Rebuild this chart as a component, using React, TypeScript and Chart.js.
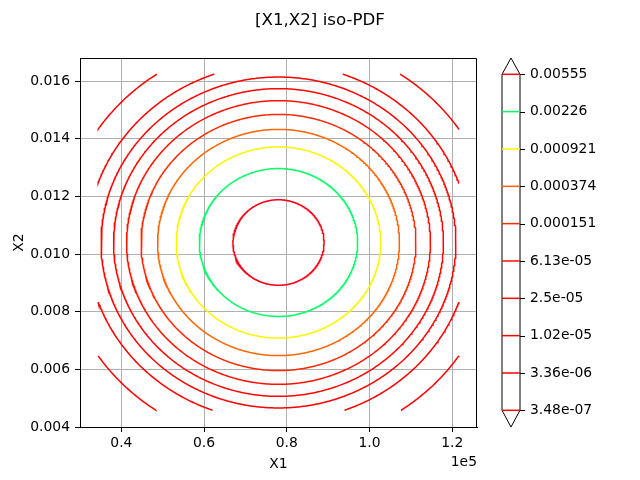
import React, { useEffect, useRef } from 'react';
import { Chart, registerables } from 'chart.js';

Chart.register(...registerables);

// ---- data ----
const levels = [3.48e-7, 3.36e-6, 1.02e-5, 2.5e-5, 6.13e-5, 0.000151, 0.000374, 0.000921, 0.00226, 0.00555];
const levelLabels = ['3.48e-07', '3.36e-06', '1.02e-05', '2.5e-05', '6.13e-05', '0.000151', '0.000374', '0.000921', '0.00226', '0.00555'];
const levelColors = ['#ff0000', '#ff0000', '#ff0300', '#ff0700', '#ff1100', '#ff2900', '#ff6500', '#fbf600', '#00ff67', '#ff0018'];
// semi-axes of each iso-PDF ellipse (X1 units, X2 units)
const semiAxisX1 = [52540, 46240, 42900, 39880, 36740, 33230, 29240, 24720, 19140, 11020];
const semiAxisX2 = [0.007049, 0.006201, 0.00574, 0.005337, 0.00492, 0.004444, 0.003924, 0.003316, 0.002566, 0.001483];
const centerX1 = 78000;
const centerX2 = 0.0104;
// box of the evaluation grid (contours stop at its edges)
const gridBoxX1 = [34400, 121600];
const gridBoxX2 = [0.00458, 0.01624];

const xRange = [30000, 126000];
const yRange = [0.004, 0.0168];
const xTickValues = [40000, 60000, 80000, 100000, 120000];
const xTickLabels = ['0.4', '0.6', '0.8', '1.0', '1.2'];
const yTickValues = [0.004, 0.006, 0.008, 0.01, 0.012, 0.014, 0.016];
const yTickLabels = ['0.004', '0.006', '0.008', '0.010', '0.012', '0.014', '0.016'];

const titleText = '[X1,X2] iso-PDF';
const xLabel = 'X1';
const yLabel = 'X2';
const xOffsetText = '1e5';

const FONT = 'DejaVu Sans';

type P = { x: number; y: number };

function insideBox(p: P) {
  return p.x >= gridBoxX1[0] && p.x <= gridBoxX1[1] && p.y >= gridBoxX2[0] && p.y <= gridBoxX2[1];
}

function edgePoint(inP: P, outP: P): P {
  let lo = 0, hi = 1;
  for (let k = 0; k < 40; k++) {
    const mid = (lo + hi) / 2;
    const q = { x: inP.x + (outP.x - inP.x) * mid, y: inP.y + (outP.y - inP.y) * mid };
    if (insideBox(q)) lo = mid; else hi = mid;
  }
  return { x: inP.x + (outP.x - inP.x) * lo, y: inP.y + (outP.y - inP.y) * lo };
}

function contourArcs(rx: number, ry: number): P[][] {
  const N = 720;
  const pts: P[] = [];
  for (let k = 0; k < N; k++) {
    const t = (2 * Math.PI * k) / N;
    pts.push({ x: centerX1 + rx * Math.cos(t), y: centerX2 + ry * Math.sin(t) });
  }
  const k0 = pts.findIndex((p) => !insideBox(p));
  if (k0 < 0) return [[...pts, pts[0]]];
  const arcs: P[][] = [];
  let cur: P[] | null = null;
  for (let j = 1; j <= N; j++) {
    const a = pts[(k0 + j - 1) % N];
    const b = pts[(k0 + j) % N];
    const ia = insideBox(a), ib = insideBox(b);
    if (!ia && ib) cur = [edgePoint(b, a), b];
    else if (ia && ib && cur) cur.push(b);
    else if (ia && !ib && cur) {
      cur.push(edgePoint(a, b));
      arcs.push(cur);
      cur = null;
    }
  }
  return arcs;
}

function buildDatasets() {
  const ds: any[] = [];
  levels.forEach((lv, i) => {
    contourArcs(semiAxisX1[i], semiAxisX2[i]).forEach((arc) => {
      ds.push({
        label: levelLabels[i],
        data: arc,
        borderColor: levelColors[i],
        backgroundColor: levelColors[i],
        borderWidth: 1.5,
        pointRadius: 0,
        showLine: true,
        fill: false,
        tension: 0,
        xAxisID: 'x',
        yAxisID: 'y',
      });
    });
  });
  return ds;
}

const decorPlugin = {
  id: 'decor',
  afterDraw(chart: any) {
    const { ctx, chartArea: ca } = chart;
    const cb = chart.scales.cb;
    ctx.save();
    // top & right spines
    ctx.strokeStyle = '#000';
    ctx.lineWidth = 1;
    ctx.beginPath();
    ctx.moveTo(ca.left, ca.top + 0.5);
    ctx.lineTo(ca.right - 0.5, ca.top + 0.5);
    ctx.lineTo(ca.right - 0.5, ca.bottom);
    ctx.stroke();

    // texts
    ctx.fillStyle = '#000';
    ctx.font = `16.67px "${FONT}"`;
    ctx.textAlign = 'center';
    ctx.textBaseline = 'alphabetic';
    ctx.fillText(titleText, 320, 24.5);

    ctx.font = `13.9px "${FONT}"`;
    ctx.fillText(xLabel, (ca.left + ca.right) / 2, 467.5);
    ctx.textAlign = 'right';
    ctx.fillText(xOffsetText, ca.right, 466);

    ctx.save();
    ctx.translate(22.5, (ca.top + ca.bottom) / 2);
    ctx.rotate(-Math.PI / 2);
    ctx.textAlign = 'center';
    ctx.textBaseline = 'alphabetic';
    ctx.fillText(yLabel, 0, 0);
    ctx.restore();

    // colorbar
    const cbL = ca.right + 25;
    const cbR = cbL + 18;
    const cbM = (cbL + cbR) / 2;
    const yTop = cb.getPixelForValue(levels.length - 1);
    const yBot = cb.getPixelForValue(0);
    ctx.fillStyle = '#fff';
    ctx.beginPath();
    ctx.moveTo(cbL, yTop);
    ctx.lineTo(cbM, ca.top);
    ctx.lineTo(cbR, yTop);
    ctx.lineTo(cbR, yBot);
    ctx.lineTo(cbM, ca.bottom);
    ctx.lineTo(cbL, yBot);
    ctx.closePath();
    ctx.fill();
    ctx.strokeStyle = '#000';
    ctx.lineWidth = 1;
    ctx.stroke();

    ctx.font = `13.9px "${FONT}"`;
    ctx.textAlign = 'left';
    ctx.textBaseline = 'middle';
    levels.forEach((lv, i) => {
      const y = cb.getPixelForValue(i);
      ctx.strokeStyle = levelColors[i];
      ctx.lineWidth = 1.5;
      ctx.beginPath();
      ctx.moveTo(cbL, y);
      ctx.lineTo(cbR, y);
      ctx.stroke();
      ctx.strokeStyle = '#000';
      ctx.lineWidth = 1;
      ctx.beginPath();
      ctx.moveTo(cbR, Math.round(y) + 0.5);
      ctx.lineTo(cbR + 5, Math.round(y) + 0.5);
      ctx.stroke();
      ctx.fillStyle = '#000';
      ctx.fillText(levelLabels[i], cbR + 10, y);
    });
    ctx.restore();
  },
};

export default function App() {
  const ref = useRef<HTMLCanvasElement>(null);
  useEffect(() => {
    Chart.defaults.font.family = FONT;
    Chart.defaults.color = '#000';
    const chart = new Chart(ref.current as HTMLCanvasElement, {
      type: 'scatter',
      data: { datasets: buildDatasets() },
      options: {
        animation: false,
        responsive: false,
        devicePixelRatio: 1,
        layout: { padding: { left: 0, right: 163, top: 58, bottom: 0 } },
        plugins: { legend: { display: false }, tooltip: { enabled: false }, title: { display: false } },
        scales: {
          x: {
            type: 'linear',
            position: 'bottom',
            min: xRange[0],
            max: xRange[1],
            afterBuildTicks: (s: any) => {
              s.ticks = xTickValues.map((v) => ({ value: v }));
            },
            afterFit: (s: any) => {
              s.height = 53;
            },
            ticks: {
              autoSkip: false,
              maxRotation: 0,
              padding: 3,
              font: { size: 13.9, family: FONT },
              color: '#000',
              callback: (v: any) => xTickLabels[xTickValues.indexOf(Number(v))],
            },
            grid: { color: '#b0b0b0', lineWidth: 1, tickColor: '#000', tickLength: 5, tickWidth: 1, drawTicks: true },
            border: { display: true, color: '#000', width: 1 },
          },
          y: {
            type: 'linear',
            position: 'left',
            min: yRange[0],
            max: yRange[1],
            afterBuildTicks: (s: any) => {
              s.ticks = yTickValues.map((v) => ({ value: v }));
            },
            afterFit: (s: any) => {
              s.width = 80;
            },
            ticks: {
              autoSkip: false,
              padding: 5,
              font: { size: 13.9, family: FONT },
              color: '#000',
              callback: (v: any) => yTickLabels[yTickValues.findIndex((t) => Math.abs(t - Number(v)) < 1e-9)],
            },
            grid: { color: '#b0b0b0', lineWidth: 1, tickColor: '#000', tickLength: 5, tickWidth: 1, drawTicks: true },
            border: { display: true, color: '#000', width: 1 },
          },
          cb: {
            type: 'linear',
            position: 'right',
            display: false,
            min: -0.447,
            max: levels.length - 1 + 0.437,
          },
        },
      } as any,
      plugins: [decorPlugin],
    });
    return () => chart.destroy();
  }, []);
  return (
    <div style={{ position: 'absolute', left: 0, top: 0, width: 640, height: 480, background: '#fff' }}>
      <canvas ref={ref} width={640} height={480} style={{ display: 'block', width: 640, height: 480 }} />
    </div>
  );
}
